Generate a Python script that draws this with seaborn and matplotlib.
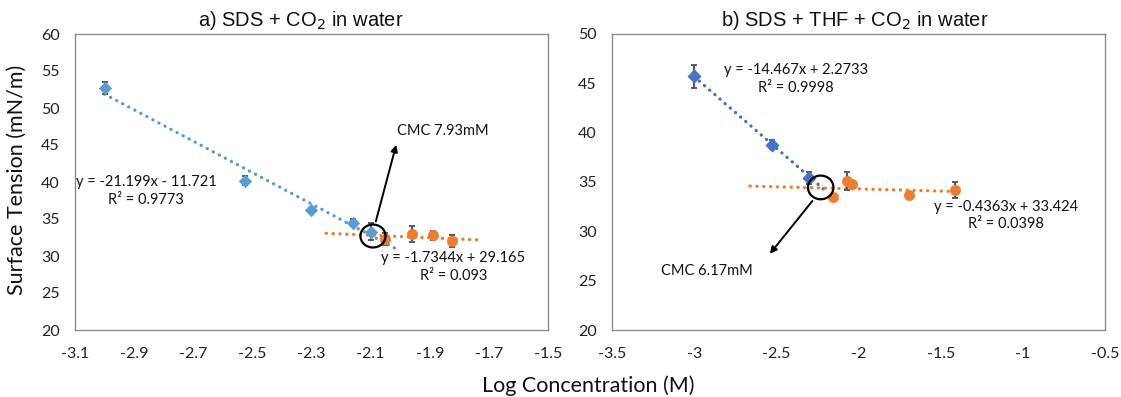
import numpy as np
import pandas as pd
import matplotlib
matplotlib.use("Agg")
import matplotlib.pyplot as plt
import seaborn as sns
from matplotlib.patches import Ellipse

# ---------------- data ----------------
# panel a) SDS + CO2 in water
a_pre_x = [-3.00, -2.525, -2.30, -2.16, -2.10]
a_pre_y = [52.7, 40.2, 36.2, 34.5, 33.3]
a_pre_err = [0.8, 0.6, 0.3, 0.5, 1.2]
a_post_x = [-2.05, -1.96, -1.89, -1.825]
a_post_y = [32.3, 33.0, 32.8, 32.0]
a_post_err = [0.8, 1.1, 0.6, 0.8]
a_fit_slope = [-21.199, -1.7344]
a_fit_icpt = [-11.721, 29.165]
a_fit_range = [(-3.00, -2.00), (-2.25, -1.725)]
a_eq_text = ["y = -21.199x - 11.721\nR² = 0.9773", "y = -1.7344x + 29.165\nR² = 0.093"]

# panel b) SDS + THF + CO2 in water
b_pre_x = [-3.00, -2.526, -2.30]
b_pre_y = [45.7, 38.8, 35.4]
b_pre_err = [1.2, 0.5, 0.6]
b_post_x = [-2.155, -2.07, -2.04, -1.69, -1.41]
b_post_y = [33.5, 35.1, 34.8, 33.7, 34.2]
b_post_err = [0.0, 0.9, 0.0, 0.0, 0.8]
b_fit_slope = [-14.467, -0.4363]
b_fit_icpt = [2.2733, 33.424]
b_fit_range = [(-3.00, -2.185), (-2.66, -1.41)]
b_eq_text = ["y = -14.467x + 2.2733\nR² = 0.9998", "y = -0.4363x + 33.424\nR² = 0.0398"]

titles = ["a) SDS + CO$_2$ in water", "b) SDS + THF + CO$_2$ in water"]
cmc_text = ["CMC 7.93mM", "CMC 6.17mM"]
x_label = "Log Concentration (M)"
y_label = "Surface Tension (mN/m)"

# ---------------- style ----------------
sns.set_theme(style="white")
plt.rcParams['font.family'] = ['Lato', 'DejaVu Sans']

BLUE_A = "#5B9BD5"
BLUE_B = "#4472C4"
ORANGE = "#ED7D31"
ERR = "#595959"
FRAME = "#8C8C8C"

fig = plt.figure(figsize=(11.21, 3.97), dpi=100)
axA = fig.add_axes([75/1121, 1-330/397, 473/1121, 296/397])
axB = fig.add_axes([612/1121, 1-330/397, 493/1121, 296/397])


def panel(ax, pre_x, pre_y, pre_err, post_x, post_y, post_err, slopes, icpts, ranges,
          blue, blue_marker_size):
    # trendlines
    for (lo, hi), m, c, col in zip(ranges, slopes, icpts, [blue, ORANGE]):
        xs = np.linspace(lo, hi, 50)
        df = pd.DataFrame({"x": xs, "y": m * xs + c})
        sns.lineplot(data=df, x="x", y="y", ax=ax, color=col, lw=2.4,
                     linestyle=(0, (0.05, 2.0)), dash_capstyle="round", zorder=2)
    # error bars
    ax.errorbar(pre_x, pre_y, yerr=pre_err, fmt="none", ecolor=ERR, elinewidth=1.6,
                capsize=2.5, capthick=1.4, zorder=3)
    ax.errorbar(post_x, post_y, yerr=post_err, fmt="none", ecolor=ERR, elinewidth=1.6,
                capsize=2.5, capthick=1.4, zorder=3)
    # points
    sns.scatterplot(x=pre_x, y=pre_y, ax=ax, marker="D", s=blue_marker_size, color=blue,
                    edgecolor=blue, linewidth=0.5, zorder=4)
    sns.scatterplot(x=post_x, y=post_y, ax=ax, marker="o", s=55, color=ORANGE,
                    edgecolor=ORANGE, linewidth=0.5, zorder=4)
    for s in ax.spines.values():
        s.set_color(FRAME)
        s.set_linewidth(1.0)
    ax.tick_params(axis="both", length=0, labelsize=11.5, colors="#222222")
    ax.tick_params(axis="x", pad=12)
    ax.tick_params(axis="y", pad=11)
    ax.set_xlabel("")
    ax.set_ylabel("")


panel(axA, a_pre_x, a_pre_y, a_pre_err, a_post_x, a_post_y, a_post_err,
      a_fit_slope, a_fit_icpt, a_fit_range, BLUE_A, 40)
panel(axB, b_pre_x, b_pre_y, b_pre_err, b_post_x, b_post_y, b_post_err,
      b_fit_slope, b_fit_icpt, b_fit_range, BLUE_B, 45)

axA.set_xlim(-3.1, -1.5)
axA.set_ylim(20, 60)
axA.set_xticks(np.arange(-3.1, -1.49, 0.2))
axA.set_xticklabels([f"{v:.1f}" for v in np.arange(-3.1, -1.49, 0.2)])
axA.set_yticks(range(20, 61, 5))

axB.set_xlim(-3.5, -0.5)
axB.set_ylim(20, 50)
axB.set_xticks(np.arange(-3.5, -0.49, 0.5))
axB.set_xticklabels([f"{v:g}" for v in np.arange(-3.5, -0.49, 0.5)])
axB.set_yticks(range(20, 51, 5))

title_kw = dict(fontsize=14.5, family=["Liberation Sans", "DejaVu Sans"], color="#111111")
fig.text(301/1121, 1-20/397, titles[0], ha="center", va="center", **title_kw)
fig.text(855/1121, 1-20/397, titles[1], ha="center", va="center", **title_kw)

txt_kw = dict(fontsize=10.5, color="#111111", ha="center", va="center", linespacing=1.35)
# equations panel a
axA.text(-2.86, 38.8, a_eq_text[0], **txt_kw)
axA.text(-1.82, 28.5, a_eq_text[1], **txt_kw)
# equations panel b
axB.text(-2.38, 45.4, b_eq_text[0], **txt_kw)
axB.text(-1.1, 31.6, b_eq_text[1], **txt_kw)

# CMC markers panel a
axA.add_patch(Ellipse((-2.092, 32.7), 0.085, 3.1, fill=False, ec="black", lw=1.6, zorder=5))
axA.annotate("", xy=(-2.011, 45.4), xytext=(-2.085, 34.3),
             arrowprops=dict(arrowstyle="-|>", color="black", lw=1.4, mutation_scale=10))
axA.text(-2.011, 46.9, cmc_text[0], fontsize=10.5, color="#111111", ha="left", va="center")

# CMC markers panel b
axB.add_patch(Ellipse((-2.23, 34.45), 0.155, 2.4, fill=False, ec="black", lw=1.6, zorder=5))
axB.annotate("", xy=(-2.55, 27.5), xytext=(-2.27, 33.3),
             arrowprops=dict(arrowstyle="-|>", color="black", lw=1.4, mutation_scale=10))
axB.text(-3.2, 26.0, cmc_text[1], fontsize=10.5, color="#111111", ha="left", va="center")

fig.text(588/1121, 1-386/397, x_label, fontsize=15.5, ha="center", va="center", color="#111111")
fig.text(17/1121, 1-180/397, y_label, fontsize=15.5, ha="center", va="center",
         rotation=90, color="#111111")

fig.savefig("out.png", dpi=100, facecolor="white")
